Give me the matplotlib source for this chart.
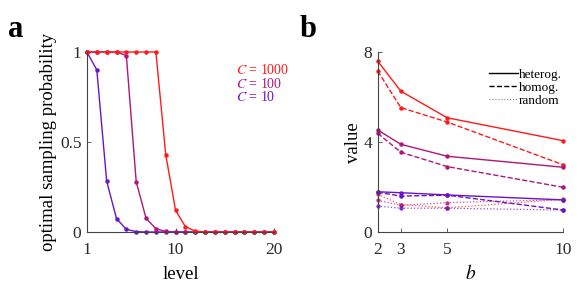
import numpy as np
import matplotlib
matplotlib.use("Agg")
import matplotlib.pyplot as plt
from matplotlib.lines import Line2D

plt.rcParams['font.family'] = ['Liberation Serif', 'DejaVu Serif']
plt.rcParams['mathtext.fontset'] = 'stix'

# panel a: optimal sampling probability per level
levels = np.arange(1, 21)
prob_c1000 = [1, 1, 1, 1, 1, 1, 1, 1, 0.43, 0.12, 0.03, 0.005] + [0] * 8
prob_c100 = [1, 1, 1, 1, 0.98, 0.28, 0.076, 0.018, 0.003] + [0] * 11
prob_c10 = [1, 0.9, 0.283, 0.074, 0.015, 0.002] + [0] * 14

# panel b: value vs b
b_vals = [2, 3, 5, 10]
het = {1000: [7.61, 6.27, 5.09, 4.07], 100: [4.55, 3.91, 3.38, 2.89], 10: [1.80, 1.76, 1.66, 1.44]}
hom = {1000: [7.17, 5.54, 4.90, 3.00], 100: [4.40, 3.56, 2.92, 2.00], 10: [1.78, 1.61, 1.65, 0.99]}
rnd = {1000: [1.69, 1.23, 1.09, 1.46], 100: [1.42, 1.20, 1.32, 1.45], 10: [1.17, 1.07, 1.07, 0.99]}

colors = {1000: '#ff1a1a', 100: '#b0167a', 10: '#6a14c8'}
spine_col = '#444444'

fig = plt.figure(figsize=(5.81, 2.91), dpi=100)
ax1 = fig.add_axes([0.1497, 0.2027, 0.3219, 0.6186])
ax2 = fig.add_axes([0.6500, 0.2017, 0.3195, 0.6186])

for ax in (ax1, ax2):
    for s in ('top', 'right'):
        ax.spines[s].set_visible(False)
    for s in ('left', 'bottom'):
        ax.spines[s].set_color(spine_col)
        ax.spines[s].set_linewidth(0.8)
    ax.tick_params(direction='in', length=3, width=0.6, color=spine_col,
                   labelsize=12.5, labelcolor='#2a2a2a')
    ax.tick_params(axis='x', pad=7)
    ax.tick_params(axis='y', pad=4)

# panel a
for C, p in [(10, prob_c10), (100, prob_c100), (1000, prob_c1000)]:
    ax1.plot(levels, p, '-', color=colors[C], lw=1.0, marker='o', ms=2.2, clip_on=False)
ax1.set_xlim(1, 20)
ax1.set_ylim(0, 1)
ax1.set_xticks([1, 10, 20])
ax1.set_yticks([0, 0.5, 1])
ax1.set_yticklabels(['0', '0.5', '1'])
ax1.set_xlabel('level', fontsize=13.5, labelpad=6)
ax1.set_ylabel('optimal sampling probability', fontsize=13.5, labelpad=2)
for i, C in enumerate([1000, 100, 10]):
    ax1.text(0.795, 0.9 - i * 0.075, '$C$ = %d' % C, transform=ax1.transAxes,
             color=colors[C], fontsize=10, va='center', ha='left')

# panel b
for C in (1000, 100, 10):
    ax2.plot(b_vals, het[C], '-', color=colors[C], lw=1.0, marker='o', ms=2.2, clip_on=False)
    ax2.plot(b_vals, hom[C], '--', color=colors[C], lw=1.0, marker='o', ms=2.2, clip_on=False)
    ax2.plot(b_vals, rnd[C], ':', color=colors[C], lw=0.9, alpha=0.75, marker='o', ms=2.2, clip_on=False)
ax2.set_xlim(2, 10)
ax2.set_ylim(0, 8)
ax2.set_xticks(b_vals)
ax2.set_yticks([0, 4, 8])
ax2.set_xlabel('$b$', fontsize=14, labelpad=4)
ax2.set_ylabel('value', fontsize=13.5, labelpad=1)

handles = [Line2D([], [], color='k', ls='-', lw=1.0),
           Line2D([], [], color='k', ls='--', lw=1.0),
           Line2D([], [], color='#888888', ls=':', lw=0.8)]
ax2.legend(handles, ['heterog.', 'homog.', 'random'], loc='upper right',
           bbox_to_anchor=(1.03, 0.945), frameon=False, fontsize=9.5,
           handlelength=2.2, handletextpad=0.1, labelspacing=0.05, borderpad=0)

fig.text(0.014, 0.873, 'a', fontsize=22, fontweight='bold')
fig.text(0.515, 0.873, 'b', fontsize=22, fontweight='bold')

fig.savefig('out.png', dpi=100)
